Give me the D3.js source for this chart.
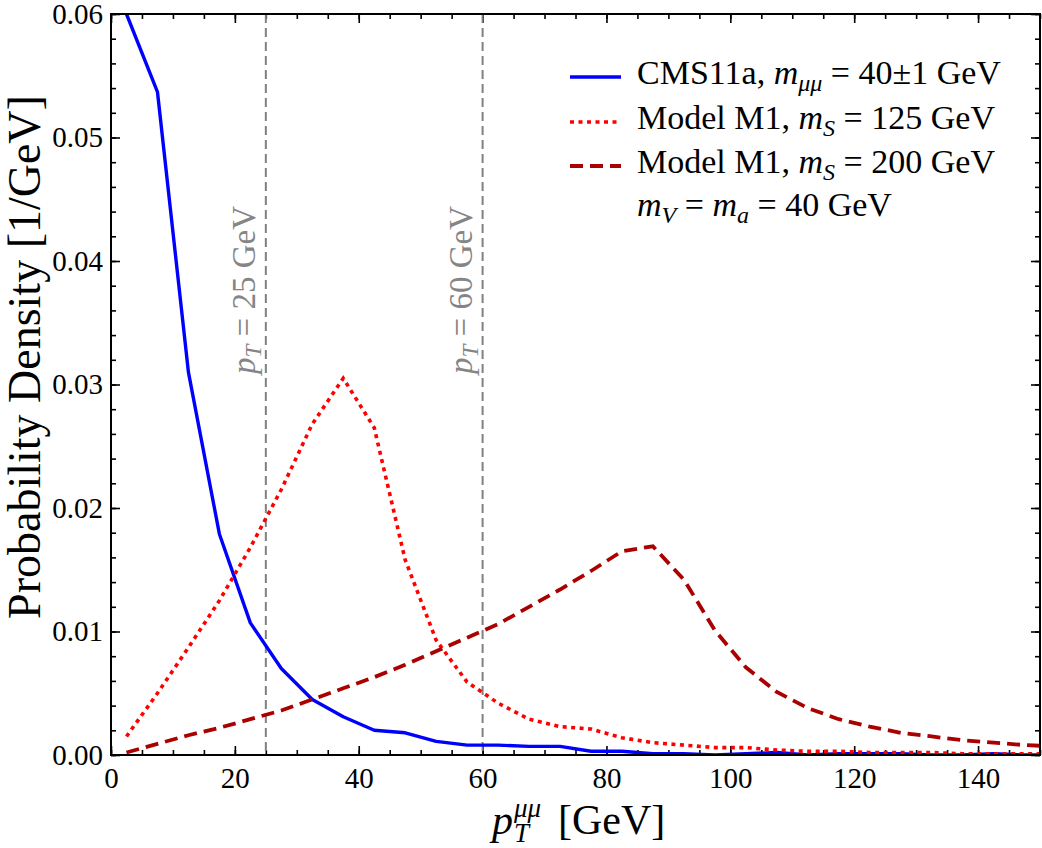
<!DOCTYPE html>
<html><head><meta charset="utf-8">
<script src="https://cdn.jsdelivr.net/npm/d3@7"></script>
<style>
body{margin:0;background:#fff;}
text{font-family:"Liberation Serif","Times New Roman",serif;}
</style></head>
<body><svg id="c" width="1042" height="848"></svg>
<script>
// ---------- data ----------
const binCenters = [2.5,7.5,12.5,17.5,22.5,27.5,32.5,37.5,42.5,47.5,52.5,57.5,62.5,67.5,72.5,77.5,82.5,87.5,92.5,97.5,102.5,107.5,112.5,117.5,122.5,127.5,132.5,137.5,142.5,147.5,152.5];
const cmsValues = [0.0600,0.0537,0.0310,0.0179,0.0107,0.0070,0.0045,0.0031,0.0020,0.0018,0.0011,0.0008,0.0008,0.0007,0.0007,0.0003,0.0003,0.0001,0.0001,0.0000,0.0001,0.0002,0.0000,0.0001,0.0001,0.0001,0.0000,0.0000,0.0001,0.0000,0.0000];
const m125Values = [0.0015,0.0050,0.0087,0.0125,0.0168,0.0215,0.0268,0.0305,0.0265,0.0158,0.0093,0.0059,0.0042,0.0029,0.0023,0.0021,0.0014,0.0010,0.0008,0.0006,0.0006,0.0004,0.0003,0.0003,0.0002,0.0002,0.0002,0.0001,0.0001,0.0001,0.0001];
const m200Values = [0.0002,0.0009,0.0016,0.0022,0.0029,0.0036,0.0045,0.0054,0.0063,0.0073,0.0084,0.0095,0.0106,0.0120,0.0134,0.0149,0.0165,0.0169,0.0142,0.0101,0.0071,0.0051,0.0038,0.0029,0.0023,0.0018,0.0015,0.0012,0.0010,0.0008,0.0007];
const xMajorTicks = [0,20,40,60,80,100,120,140];
const yMajorTicks = [0,0.01,0.02,0.03,0.04,0.05,0.06];
const cutValues = [25,60];
const cutLabels = ["25 GeV","60 GeV"];

// ---------- layout ----------
const L=111,R=1040,T=14,B=755;
const svg=d3.select("#c");
const x=d3.scaleLinear().domain([0,150]).range([L,R]);
const y=d3.scaleLinear().domain([0,0.06]).range([B,T]);
const xMinor=d3.range(0,151,5), yMinor=d3.range(0,31).map(i=>i*0.002);

function styleAxis(g){g.select(".domain").remove();g.selectAll("line").attr("stroke","#000").attr("stroke-width",1.6);g.selectAll("text").attr("font-size",29).attr("fill","#000").attr("font-family","Liberation Serif");}

// minor ticks
svg.append("g").attr("transform",`translate(0,${B})`).call(d3.axisBottom(x).tickValues(xMinor).tickSize(-5).tickFormat("")).call(styleAxis);
svg.append("g").attr("transform",`translate(0,${T})`).call(d3.axisTop(x).tickValues(xMinor).tickSize(-5).tickFormat("")).call(styleAxis);
svg.append("g").attr("transform",`translate(${L},0)`).call(d3.axisLeft(y).tickValues(yMinor).tickSize(-5).tickFormat("")).call(styleAxis);
svg.append("g").attr("transform",`translate(${R},0)`).call(d3.axisRight(y).tickValues(yMinor).tickSize(-5).tickFormat("")).call(styleAxis);
// major ticks
svg.append("g").attr("transform",`translate(0,${B})`).call(d3.axisBottom(x).tickValues(xMajorTicks).tickSize(-9).tickPadding(12).tickFormat(d3.format("d"))).call(styleAxis);
svg.append("g").attr("transform",`translate(0,${T})`).call(d3.axisTop(x).tickValues(xMajorTicks).tickSize(-9).tickFormat("")).call(styleAxis);
svg.append("g").attr("transform",`translate(${L},0)`).call(d3.axisLeft(y).tickValues(yMajorTicks).tickSize(-9).tickPadding(8).tickFormat(d3.format(".2f"))).call(styleAxis);
svg.append("g").attr("transform",`translate(${R},0)`).call(d3.axisRight(y).tickValues(yMajorTicks).tickSize(-9).tickFormat("")).call(styleAxis);

// clip
svg.append("clipPath").attr("id","clip").append("rect").attr("x",L).attr("y",T).attr("width",R-L).attr("height",B-T);
const plot=svg.append("g").attr("clip-path","url(#clip)");

// cut lines
cutValues.forEach((c,i)=>{
  plot.append("line").attr("x1",x(c)).attr("x2",x(c)).attr("y1",T).attr("y2",B)
    .attr("stroke","#808080").attr("stroke-width",2).attr("stroke-dasharray","9,5");
  const t=svg.append("text").attr("transform",`translate(${x(c)-11},290) rotate(-90)`)
    .attr("text-anchor","middle").attr("font-size",33).attr("fill","#858585");
  t.append("tspan").attr("font-style","italic").text("p");
  t.append("tspan").attr("font-style","italic").attr("font-size",23).attr("dy",6).text("T");
  t.append("tspan").attr("dy",-6).text(" = "+cutLabels[i]);
});

const line=d3.line().x((d,i)=>x(binCenters[i])).y(d=>y(d));
plot.append("path").datum(cmsValues).attr("d",line).attr("fill","none").attr("stroke","#0000ff").attr("stroke-width",3.4).attr("stroke-linejoin","round");
plot.append("path").datum(m125Values).attr("d",line).attr("fill","none").attr("stroke","#ff0000").attr("stroke-width",3.6).attr("stroke-dasharray","4,4.5");
plot.append("path").datum(m200Values).attr("d",line).attr("fill","none").attr("stroke","#aa0000").attr("stroke-width",3.8).attr("stroke-dasharray","13,7");

// frame
svg.append("rect").attr("x",L).attr("y",T).attr("width",R-L).attr("height",B-T).attr("fill","none").attr("stroke","#000").attr("stroke-width",2);

// legend
const leg=svg.append("g");
const legY=[77,122,166];
const legStyles=[{c:"#0000ff",d:null,w:3.4},{c:"#ff0000",d:"4,4.5",w:3.6},{c:"#aa0000",d:"13,7",w:3.8}];
legStyles.forEach((s,i)=>{
  leg.append("line").attr("x1",570).attr("x2",621).attr("y1",legY[i]).attr("y2",legY[i])
    .attr("stroke",s.c).attr("stroke-width",s.w).attr("stroke-dasharray",s.d);
});
function legText(yb,parts){
  const t=leg.append("text").attr("x",637).attr("y",yb).attr("font-size",34).attr("fill","#000");
  parts.forEach(p=>{const s=t.append("tspan").text(p.t);if(p.i)s.attr("font-style","italic");if(p.s)s.attr("font-size",24);if(p.dy)s.attr("dy",p.dy);});
}
legText(84,[{t:"CMS11a, "},{t:"m",i:1},{t:"μμ",i:1,s:1,dy:7},{t:" = 40±1 GeV",dy:-7}]);
legText(129,[{t:"Model M1, "},{t:"m",i:1},{t:"S",i:1,s:1,dy:7},{t:" = 125 GeV",dy:-7}]);
legText(173,[{t:"Model M1, "},{t:"m",i:1},{t:"S",i:1,s:1,dy:7},{t:" = 200 GeV",dy:-7}]);
legText(216,[{t:"m",i:1},{t:"V",i:1,s:1,dy:7},{t:" = ",dy:-7},{t:"m",i:1},{t:"a",i:1,s:1,dy:7},{t:" = 40 GeV",dy:-7}]);

// axis titles
svg.append("text").attr("transform","translate(40,357) rotate(-90)").attr("text-anchor","middle").attr("font-size",46).attr("fill","#000").text("Probability Density [1/GeV]");

// x title: measure superscript width so that sub/superscripts stack
const tmp=svg.append("text").attr("font-size",27).attr("font-style","italic").text("μμ");
const muW=tmp.node().getComputedTextLength(); tmp.remove();
const xl=svg.append("text").attr("x",492).attr("y",834).attr("font-size",42).attr("fill","#000");
xl.append("tspan").attr("font-style","italic").text("p");
xl.append("tspan").attr("font-style","italic").attr("font-size",27).attr("dx",1).attr("dy",-17).text("μμ");
xl.append("tspan").attr("font-style","italic").attr("font-size",27).attr("dx",-muW).attr("dy",25).text("T");
xl.append("tspan").attr("x",558).attr("dy",-8).text("[GeV]");
</script></body></html>
